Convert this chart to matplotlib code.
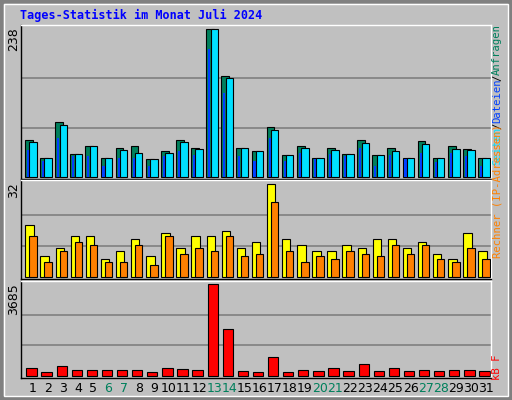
import matplotlib
matplotlib.use("Agg")
import matplotlib.pyplot as plt
from matplotlib.patches import Rectangle
import numpy as np

days = list(range(1, 32))
weekend = [6, 7, 13, 14, 20, 21, 27, 28]
anfragen = [60, 30, 88, 36, 49, 30, 46, 49, 28, 41, 60, 47, 238, 162, 47, 41, 80, 35, 49, 30, 46, 36, 59, 35, 46, 31, 57, 31, 49, 44, 30]
seiten = [56, 30, 83, 36, 49, 30, 43, 38, 28, 39, 56, 44, 238, 159, 46, 41, 75, 35, 46, 30, 43, 36, 54, 35, 41, 31, 52, 31, 44, 43, 30]
dateien = [43, 25, 62, 33, 33, 18, 30, 31, 17, 33, 41, 35, 206, 135, 33, 25, 62, 26, 39, 28, 36, 33, 47, 17, 35, 28, 38, 23, 38, 33, 17]
besuche = [18, 7, 10, 14, 14, 6, 9, 13, 7, 15, 10, 14, 14, 16, 10, 12, 32, 13, 11, 9, 9, 11, 10, 13, 13, 10, 12, 8, 6, 15, 9]
rechner = [14, 5, 9, 12, 11, 5, 5, 11, 4, 14, 8, 10, 9, 14, 7, 8, 26, 9, 5, 7, 6, 9, 8, 7, 11, 8, 11, 6, 5, 10, 6]
kbytes = [296, 134, 377, 215, 215, 215, 215, 215, 134, 296, 255, 215, 3685, 1869, 175, 134, 740, 134, 215, 175, 296, 175, 457, 175, 296, 175, 215, 175, 215, 215, 175]

W, H = 512, 400
fig = plt.figure(figsize=(W/100, H/100), dpi=100)
fig.patch.set_facecolor("#C0C0C0")
x = np.array(days)

def px(l, t, r, b):
    return [l/W, 1-b/H, (r-l)/W, (b-t)/H]

# frame
for rect in [Rectangle((0, 0), 1, 1, fill=False, ec="black", lw=2),
             Rectangle((1/W, 1/H), 1-2/W, 1-2/H, fill=False, ec="#808080", lw=4),
             Rectangle((4/W, 4/H), 1-8/W, 1-8/H, fill=False, ec="white", lw=1)]:
    rect.set_transform(fig.transFigure)
    rect.set_zorder(-10)
    fig.patches.append(rect)

fig.text(20/W, 1-15/H, "Tages-Statistik im Monat Juli 2024", color="#0000FF",
         family="DejaVu Sans Mono", weight="bold", fontsize=8.5, va="center", ha="left")

panels = [(25, 179), (180, 279), (281, 378)]
axes = []
for (t, b) in panels:
    ax = fig.add_axes(px(20.7, t, 490.7, b))
    ax.set_facecolor("#C0C0C0")
    for s in ["left", "bottom"]:
        ax.spines[s].set_color("black")
    for s in ["top", "right"]:
        ax.spines[s].set_color("white")
    for s in ax.spines.values():
        s.set_linewidth(1)
    ax.set_xlim(0.185, 31.31)
    ax.set_xticks([]); ax.set_yticks([])
    axes.append(ax)

def setup(ax, mx, t, b, toppx, basepx):
    span = basepx - toppx
    ax.set_ylim(-(b - basepx)/span*mx, mx + (toppx - t)/span*mx)
    for f in (1/3, 2/3):
        ax.axhline(mx*f, color="#808080", lw=1.2, zorder=0)
    fig.text(14/W, 1-(t+2)/H, str(mx), rotation=90, ha="center", va="top", fontsize=9, color="black")

ek = dict(edgecolor="black", linewidth=0.8)
a1, a2, a3 = axes
setup(a1, 238, 25, 179, 29.3, 176.7)
a1.bar(x - 0.275, anfragen, width=0.51, color="#00805C", **ek, zorder=2)
a1.bar(x - 0.33, dateien, width=0.14, color="#0040FF", linewidth=0, zorder=3)
a1.bar(x, seiten, width=0.49, color="#00E0FF", **ek, zorder=4)

setup(a2, 32, 180, 279, 184.3, 276.7)
a2.bar(x - 0.23, besuche, width=0.56, color="#FFFF00", **ek, zorder=2)
a2.bar(x, rechner, width=0.49, color="#FF8000", **ek, zorder=3)

setup(a3, 3685, 281, 378, 284.3, 375.7)
a3.bar(x - 0.1, kbytes, width=0.68, color="#FF0000", **ek, zorder=2)

for d in days:
    xp = 33 + 15.1*(d-1)
    fig.text(xp/W, 1-389/H, str(d), ha="center", va="center", fontsize=9,
             color="#00805C" if d in weekend else "black")

def vtext(pieces, xpix, ytop, pitch=6.0):
    total = sum(len(s) for s, _ in pieces)
    y = ytop + total*pitch
    for s, c in pieces:
        n = len(s)
        fig.text(xpix/W, 1-y/H, s, rotation=90, ha="center", va="bottom",
                 family="DejaVu Sans Mono", fontsize=7.6, color=c)
        y -= n*pitch

vtext([("Seiten", "#00E0FF"), ("/", "black"), ("Dateien", "#0040FF"), ("/", "black"), ("Anfragen", "#00805C")], 497, 27)
vtext([("Rechner (IP-Adressen)", "#FF8000")], 497, 132)
vtext([("kB F", "#FF0000")], 497, 356)

fig.savefig("out.png", dpi=100, facecolor=fig.get_facecolor())
